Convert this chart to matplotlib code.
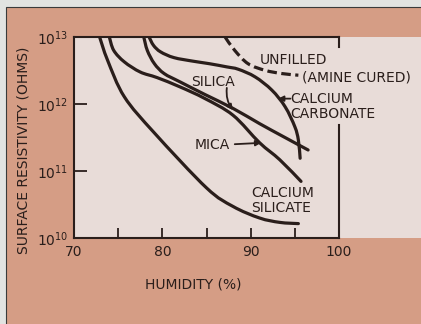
import numpy as np
import matplotlib.pyplot as plt
from matplotlib.patches import Rectangle, PathPatch
from matplotlib.path import Path

# humidity (%) and surface resistivity (ohms) for each filler
hum_ca_silicate = [72.9, 73.8, 75.7, 79.1, 85.0, 88.0, 91.0, 93.3, 95.4]
res_ca_silicate = [1.0e13, 4.5e12, 1.28e12, 3.7e11, 5.6e10, 2.96e10, 1.99e10, 1.71e10, 1.64e10]

hum_mica = [74.0, 74.5, 75.7, 77.5, 79.4, 82.0, 84.8, 88.0, 91.0, 93.3, 95.7]
res_mica = [1.0e13, 6.3e12, 4.25e12, 3.0e12, 2.48e12, 1.8e12, 1.21e12, 6.8e11, 2.65e11, 1.47e11, 7.0e10]

hum_silica = [77.9, 78.3, 79.1, 80.2, 82.0, 84.8, 88.0, 91.0, 93.7, 96.5]
res_silica = [1.0e13, 6.3e12, 4.0e12, 2.85e12, 2.14e12, 1.39e12, 8.6e11, 5.1e11, 3.26e11, 2.06e11]

hum_ca_carbonate = [78.5, 79.0, 79.8, 81.3, 83.5, 85.3, 87.3, 88.6, 90.5, 92.4, 93.9, 95.0, 95.4, 95.6]
res_ca_carbonate = [1.0e13, 7.5e12, 6.0e12, 4.93e12, 4.35e12, 4.0e12, 3.58e12, 3.3e12,
                    2.54e12, 1.61e12, 9.1e11, 4.58e11, 2.9e11, 1.55e11]

hum_unfilled = [87.1, 88.2, 89.7, 91.6, 93.5, 95.4]
res_unfilled = [1.0e13, 6.3e12, 4.0e12, 3.19e12, 2.85e12, 2.69e12]

x_ticks = [70, 80, 90, 100]
x_minor = [75, 85, 95]
y_ticks = [1e10, 1e11, 1e12, 1e13]
y_labels = [r'$10^{10}$', r'$10^{11}$', r'$10^{12}$', r'$10^{13}$']

INK = '#2a1e1b'
SALMON = '#d59d85'
PALE = '#e8dcd8'


def smooth_path(x, y):
    # Catmull-Rom through the points, worked out in (x, log y) and built as cubic Beziers
    p = np.column_stack([x, np.log10(y)])
    ext = np.vstack([p[0], p, p[-1]])
    verts = [p[0]]
    codes = [Path.MOVETO]
    for i in range(len(p) - 1):
        p0, p1, p2, p3 = ext[i], ext[i + 1], ext[i + 2], ext[i + 3]
        verts += [p1 + (p2 - p0) / 6, p2 - (p3 - p1) / 6, p2]
        codes += [Path.CURVE4] * 3
    verts = np.array(verts)
    verts[:, 1] = 10 ** verts[:, 1]
    return Path(verts, codes)


plt.rcParams['font.family'] = 'DejaVu Sans'

fig = plt.figure(figsize=(4.21, 3.24), dpi=100, facecolor='#e2e3e1')

# page colour and pale band behind the plot
fig.patches.append(Rectangle((6 / 421, -0.05), 1.0, 1 - 7 / 324 + 0.05, transform=fig.transFigure,
                             facecolor=SALMON, edgecolor='#3a3a3a', linewidth=0.8, zorder=-2))
fig.patches.append(Rectangle((74 / 421, 86 / 324), 1.0, 201 / 324, transform=fig.transFigure,
                             facecolor=PALE, edgecolor='none', zorder=-1))

ax = fig.add_axes([74 / 421, 86 / 324, 265 / 421, 201 / 324])
ax.set_facecolor('none')
ax.set_yscale('log')
ax.set_xlim(70, 100)
ax.set_ylim(1e10, 1e13)

lw = 2.3
for h, r in [(hum_ca_silicate, res_ca_silicate), (hum_mica, res_mica),
             (hum_silica, res_silica), (hum_ca_carbonate, res_ca_carbonate)]:
    ax.add_patch(PathPatch(smooth_path(h, r), fill=False, edgecolor=INK, lw=lw,
                           capstyle='round', joinstyle='round'))
ax.add_patch(PathPatch(smooth_path(hum_unfilled, res_unfilled), fill=False, edgecolor=INK,
                       lw=lw, linestyle=(0, (3, 1.4)), clip_on=False))

# spines and ticks
for s in ['left', 'bottom', 'top']:
    ax.spines[s].set_color(INK)
    ax.spines[s].set_linewidth(1.5)
ax.spines['right'].set_visible(False)
ax.plot([1, 1], [1, 0.95], transform=ax.transAxes, color=INK, lw=1.5, clip_on=False)
ax.plot([1, 1], [0.562, 0], transform=ax.transAxes, color=INK, lw=1.5, clip_on=False)

ax.set_xticks(x_ticks)
ax.set_xticks(x_minor, minor=True)
ax.tick_params(axis='x', which='both', direction='in', length=7, width=1.3, color=INK,
               labelsize=10, labelcolor=INK, pad=5)
ax.set_yticks(y_ticks)
ax.set_yticklabels(y_labels)
ax.yaxis.set_minor_locator(plt.NullLocator())
ax.tick_params(axis='y', direction='in', length=9, width=1.3, color=INK,
               labelsize=10, labelcolor=INK, pad=4)

fs = 10
ax.text(91.0, 10**12.66, 'UNFILLED', fontsize=fs, color=INK, va='center', ha='left')
ax.text(95.8, 10**12.40, '(AMINE CURED)', fontsize=fs, color=INK, va='center', ha='left', clip_on=False)
ax.text(94.5, 10**12.08, 'CALCIUM', fontsize=fs, color=INK, va='center', ha='left')
ax.text(94.5, 10**11.85, 'CARBONATE', fontsize=fs, color=INK, va='center', ha='left')
ax.text(83.3, 10**12.33, 'SILICA', fontsize=fs, color=INK, va='center', ha='left')
ax.text(83.6, 10**11.39, 'MICA', fontsize=fs, color=INK, va='center', ha='left')
ax.text(90.1, 10**10.67, 'CALCIUM', fontsize=fs, color=INK, va='center', ha='left')
ax.text(90.1, 10**10.45, 'SILICATE', fontsize=fs, color=INK, va='center', ha='left')

arrow = dict(arrowstyle='-|>', color=INK, lw=1.3, mutation_scale=8, shrinkA=0, shrinkB=0)
ax.annotate('', xy=(93.1, 10**12.08), xytext=(94.5, 10**12.08), arrowprops=arrow)
ax.annotate('', xy=(88.0, 10**11.91), xytext=(87.3, 10**12.24),
            arrowprops=dict(arrow, connectionstyle='arc3,rad=0.2'))
ax.annotate('', xy=(91.2, 10**11.42), xytext=(88.2, 10**11.40), arrowprops=arrow)

fig.text(193 / 421, 1 - 285 / 324, 'HUMIDITY (%)', fontsize=fs, color=INK, ha='center', va='center')
fig.text(24 / 421, 1 - 150 / 324, 'SURFACE RESISTIVITY (OHMS)', fontsize=fs, color=INK,
         ha='center', va='center', rotation=90)

fig.savefig('out.png', dpi=100, facecolor=fig.get_facecolor())
